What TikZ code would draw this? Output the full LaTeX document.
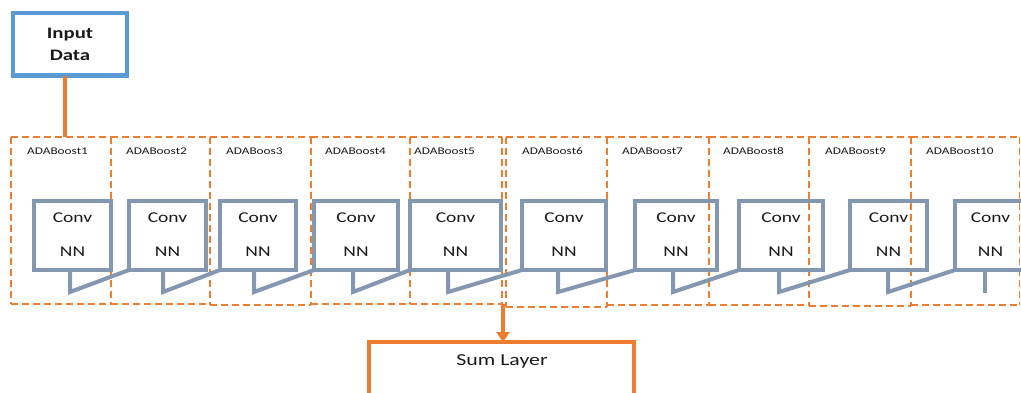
\documentclass[tikz,border=0pt]{standalone}
\usepackage{fontspec}
\setmainfont{Carlito}[FakeStretch=1.3]
\usetikzlibrary{arrows.meta,calc}
\definecolor{inblue}{HTML}{5B9BD5}
\definecolor{boostorange}{HTML}{ED7D31}
\definecolor{convgray}{HTML}{8497B0}
\definecolor{inktext}{HTML}{1A1A1A}

\tikzset{
  inbox/.style={draw=inblue, line width=4.3pt, minimum width=114.5pt, minimum height=62.6pt,
    inner sep=0pt, outer sep=0pt, align=center, text=inktext,
    font=\fontsize{16}{22}\selectfont\bfseries},
  boostarea/.style={inner sep=0pt, outer sep=0pt},
  boostedge/.style={draw=boostorange, line width=1.3pt, dash pattern=on 7pt off 4pt},
  boostlabel/.style={anchor=west, inner sep=0pt, text=inktext,
    font=\fontsize{10.2}{12}\selectfont},
  convbox/.style={draw=convgray, line width=4pt, minimum height=69pt,
    inner sep=0pt, outer sep=0pt},
  convtail/.style={draw=convgray, line width=4pt, line join=miter},
  convtext/.style={inner sep=0pt, text=inktext, font=\fontsize{15}{18}\selectfont},
  sumbox/.style={draw=boostorange, line width=4pt, minimum width=265pt, minimum height=70pt,
    inner sep=0pt, outer sep=0pt},
  sumtext/.style={inner sep=0pt, text=inktext, font=\fontsize{16.8}{20}\selectfont},
  flow/.style={draw=boostorange, line width=3.6pt},
}

\begin{document}
\begin{tikzpicture}[x=1pt,y=-1pt]
  \useasboundingbox (0,0) rectangle (1021,392);
  \clip (0,0) rectangle (1021,392);

  % input block
  \node[inbox] (in) at (70,44.3) {Input\\Data};

  % dashed ADABoost stages: index / left / right / bottom / label x / label
  % every edge is its own subpath, started from the top or the left,
  % so that shared edges of neighbouring stages dash in step
  \foreach \i/\l/\r/\b/\lx/\txt in {
      1/11/111/304/27/ADABoost1,
      2/111/210/304/126/ADABoost2,
      3/210/311/305/226/ADABoos3,
      4/311/410/304/325/ADABoost4,
      5/410/502/304/414/ADABoost5,
      6/506/607/307/522/ADABoost6,
      7/607/709/305/622/ADABoost7,
      8/709/809/305/723/ADABoost8,
      9/809/911/306/825/ADABoost9,
      10/911/1019.5/305/926/ADABoost10} {
    \node[boostarea, anchor=north west, minimum width={\r-\l}, minimum height={\b-137}]
      (a\i) at (\l,137) {};
    \draw[boostedge] (a\i.north west) -- (a\i.north east)
                     (a\i.north west) -- (a\i.south west)
                     (a\i.north east) -- (a\i.south east)
                     (a\i.south west) -- (a\i.south east);
    \node[boostlabel] (al\i) at (\lx,151) {\txt};
  }

  % Conv NN callouts: index / left / right
  \foreach \i/\l/\r in {
      1/34/111, 2/129/206, 3/220/296, 4/314/398, 5/410/501,
      6/522/606, 7/635/717, 8/739/823, 9/850/927, 10/955/1026} {
    \node[convbox, minimum width={\r-\l}] (c\i) at ({(\l+\r)/2},235.5) {};
    \node[convtext] (cc\i) at ({(\l+\r)/2},218) {Conv};
    \node[convtext] (cn\i) at ({(\l+\r)/2},252) {NN};
  }

  % callout tails, each pointing on to the next block
  \foreach \i/\j/\t in {1/2/70, 2/3/163, 3/4/254, 4/5/353, 5/6/448,
                        6/7/558, 7/8/673, 8/9/779, 9/10/888} {
    \coordinate (tip\i) at (\t,292);
    \draw[convtail] (c\i.south -| tip\i) -- (tip\i) -- (c\j.south west);
  }
  \coordinate (tip10) at (985,293);
  \draw[convtail] (c10.south -| tip10) -- (tip10);

  % sum layer
  \node[sumbox, anchor=north] (sum) at (501.5,342) {};
  \node[sumtext] (sumlabel) at (502,361) {Sum Layer};

  % connectors
  \draw[flow] ([xshift=-5pt]in.south) -- ([xshift=-5pt]in.south |- a1.north);
  \draw[flow, -{Triangle[length=10pt,width=13pt]}]
    ([xshift=1pt]a5.south east) -- ([xshift=1pt]a5.south east |- sum.north);
\end{tikzpicture}
\end{document}
